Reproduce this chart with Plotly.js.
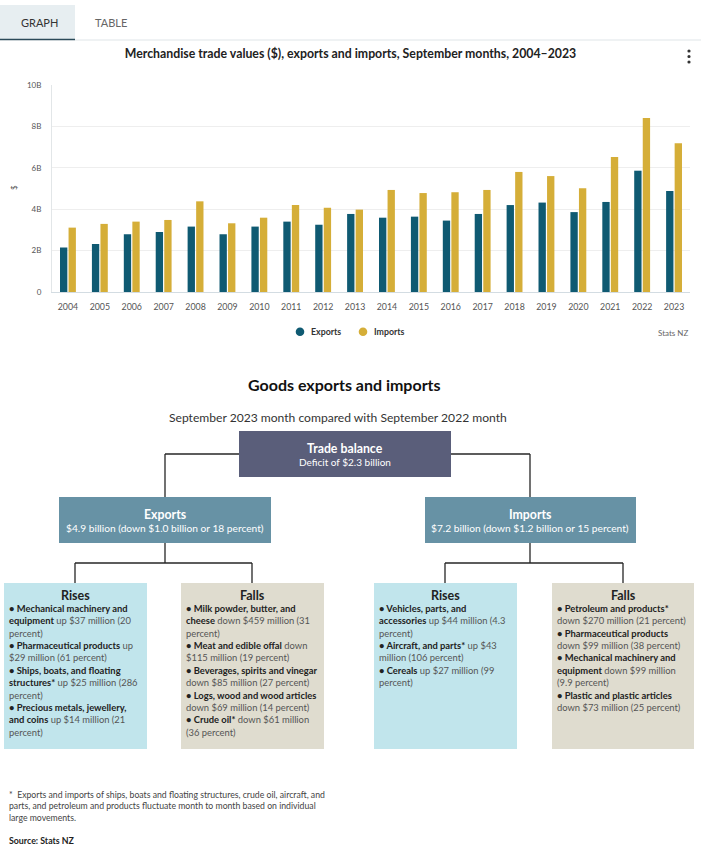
<!DOCTYPE html>
<html>
<head>
<meta charset="utf-8">
<script src="https://cdn.plot.ly/plotly-3.0.1.min.js"></script>
<style>
html,body{margin:0;padding:0;background:#fff;}
#chart{width:701px;height:853px;}
</style>
</head>
<body>
<div id="chart"></div>
<script>
// ---------- Data ----------
const years = ['2004','2005','2006','2007','2008','2009','2010','2011','2012','2013',
               '2014','2015','2016','2017','2018','2019','2020','2021','2022','2023'];
const exportsB = [2.15, 2.32, 2.79, 2.90, 3.16, 2.79, 3.16, 3.40, 3.25, 3.77,
                  3.59, 3.64, 3.45, 3.77, 4.20, 4.32, 3.86, 4.35, 5.86, 4.88];
const importsB = [3.11, 3.29, 3.40, 3.48, 4.38, 3.32, 3.59, 4.20, 4.07, 3.98,
                  4.93, 4.78, 4.82, 4.93, 5.80, 5.60, 5.01, 6.52, 8.41, 7.18];
const yTickVals = [0, 2, 4, 6, 8, 10];
const yTickText = ['0', '2B', '4B', '6B', '8B', '10B'];
const seriesNames = ['Exports', 'Imports'];
const chartTitle = 'Merchandise trade values ($), exports and imports, September months, 2004–2023';
const tabLabels = ['GRAPH', 'TABLE'];
const sourceLabel = 'Stats NZ';

const infoTitle = 'Goods exports and imports';
const infoSubtitle = 'September 2023 month compared with September 2022 month';
const balanceBox = ['Trade balance', 'Deficit of $2.3 billion'];
const exportsBox = ['Exports', '$4.9 billion (down $1.0 billion or 18 percent)'];
const importsBox = ['Imports', '$7.2 billion (down $1.2 billion or 15 percent)'];
const risesLabel = 'Rises';
const fallsLabel = 'Falls';
// lines: [bold part, regular part]
const exportRises = [
  ['• Mechanical machinery and', ''],
  ['equipment', ' up $37 million (20'],
  ['', 'percent)'],
  ['• Pharmaceutical products', ' up'],
  ['', '$29 million (61 percent)'],
  ['• Ships, boats, and floating', ''],
  ['structures*', ' up $25 million (286'],
  ['', 'percent)'],
  ['• Precious metals, jewellery,', ''],
  ['and coins', ' up $14 million (21'],
  ['', 'percent)']
];
const exportFalls = [
  ['• Milk powder, butter, and', ''],
  ['cheese', ' down $459 million (31'],
  ['', 'percent)'],
  ['• Meat and edible offal', ' down'],
  ['', '$115 million (19 percent)'],
  ['• Beverages, spirits and vinegar', ''],
  ['', 'down $85 million (27 percent)'],
  ['• Logs, wood and wood articles', ''],
  ['', 'down $69 million (14 percent)'],
  ['• Crude oil*', ' down $61 million'],
  ['', '(36 percent)']
];
const importRises = [
  ['• Vehicles, parts, and', ''],
  ['accessories', ' up $44 million (4.3'],
  ['', 'percent)'],
  ['• Aircraft, and parts*', ' up $43'],
  ['', 'million (106 percent)'],
  ['• Cereals', ' up $27 million (99'],
  ['', 'percent)']
];
const importFalls = [
  ['• Petroleum and products*', ''],
  ['', 'down $270 million (21 percent)'],
  ['• Pharmaceutical products', ''],
  ['', 'down $99 million (38 percent)'],
  ['• Mechanical machinery and', ''],
  ['equipment', ' down $99 million'],
  ['', '(9.9 percent)'],
  ['• Plastic and plastic articles', ''],
  ['', 'down $73 million (25 percent)']
];
const footnoteLines = [
  '*  Exports and imports of ships, boats and floating structures, crude oil, aircraft, and',
  'parts, and petroleum and products fluctuate month to month based on individual',
  'large movements.'
];
const footSource = 'Source: Stats NZ';

// ---------- Helpers ----------
const W = 701, H = 853;
const X = p => p / W;
const Y = p => 1 - p / H;
const EXP_C = '#0f5a72', IMP_C = '#d5ae38';
const CHART_FONT = 'Lato, "Open Sans", sans-serif';
const INFO_FONT = 'Lato, "Open Sans", sans-serif';

function rect(x0, y0, x1, y1, fill, line) {
  return {type:'rect', xref:'paper', yref:'paper', x0:X(x0), x1:X(x1), y0:Y(y1), y1:Y(y0),
          fillcolor:fill, line:line || {width:0}, layer:'above'};
}
function seg(x0, y0, x1, y1, color, w) {
  return {type:'line', xref:'paper', yref:'paper', x0:X(x0), x1:X(x1), y0:Y(y0), y1:Y(y1),
          line:{color:color, width:w}, layer:'above'};
}
function circ(cx, cy, r, fill) {
  return {type:'circle', xref:'paper', yref:'paper', x0:X(cx-r), x1:X(cx+r), y0:Y(cy+r), y1:Y(cy-r),
          fillcolor:fill, line:{width:0}, layer:'above'};
}
function txt(text, x, y, opts) {
  opts = opts || {};
  return Object.assign({text:text, xref:'paper', yref:'paper', x:X(x), y:Y(y), showarrow:false,
    xanchor:'center', yanchor:'middle', align:'center',
    font:{family:CHART_FONT, size:10, color:'#333'}}, opts);
}

// ---------- Traces ----------
const traces = [
  {type:'bar', name:seriesNames[0], x:years, y:exportsB, marker:{color:EXP_C}, hoverinfo:'x+y'},
  {type:'bar', name:seriesNames[1], x:years, y:importsB, marker:{color:IMP_C}, hoverinfo:'x+y'}
];

// ---------- Shapes ----------
const CON = '#262626', CW = 1.3;
const shapes = [
  // tabs
  rect(0, 5, 75, 40, '#e7eef1'),
  seg(75, 40, 701, 40, '#dfe5e8', 1),
  seg(0, 39.5, 75, 39.5, '#2b4a59', 1.5),
  // kebab
  circ(689, 51, 1.6, '#333'), circ(689, 56.5, 1.6, '#333'), circ(689, 62, 1.6, '#333'),
  // legend markers
  circ(300, 331.7, 4.3, EXP_C), circ(363, 331.7, 4.3, IMP_C),
  // connectors
  seg(165, 454, 239, 454, CON, CW),
  seg(165, 454, 165, 497, CON, CW),
  seg(451, 454, 530, 454, CON, CW),
  seg(530, 454, 530, 497, CON, CW),
  seg(165, 543, 165, 563, CON, CW),
  seg(75, 563, 252, 563, CON, CW),
  seg(75, 563, 75, 583, CON, CW),
  seg(252, 563, 252, 583, CON, CW),
  seg(530, 543, 530, 563, CON, CW),
  seg(445, 563, 623, 563, CON, CW),
  seg(445, 563, 445, 583, CON, CW),
  seg(623, 563, 623, 583, CON, CW),
  // boxes
  rect(239, 431, 451, 477, '#5a5e7a'),
  rect(59, 497, 271, 543, '#6792a5'),
  rect(425, 497, 636, 543, '#6792a5'),
  rect(4, 583, 147, 749, '#c1e5ec'),
  rect(181, 583, 324, 749, '#dfdccf'),
  rect(374, 583, 517, 749, '#c1e5ec'),
  rect(552, 583, 694, 749, '#dfdccf')
];

// ---------- Annotations ----------
const LINE = 12.4, FIRST = 608.3, BODY_SIZE = 9.4;
function bodyAnns(lines, x) {
  return lines.map(([b, r], i) => txt(
    (b ? '<b><span style="color:#222">' + b + '</span></b>' : '') + r,
    x, FIRST + i * LINE,
    {xanchor:'left', align:'left', font:{family:INFO_FONT, size:BODY_SIZE, color:'#555'}}));
}
const annotations = [
  txt(tabLabels[0], 39, 22, {font:{family:CHART_FONT, size:11, color:'#333'}}),
  txt(tabLabels[1], 111, 22, {font:{family:CHART_FONT, size:11, color:'#666'}}),
  txt('<b>' + seriesNames[0] + '</b>', 309, 332, {xanchor:'left', font:{family:CHART_FONT, size:8.8, color:'#333'}}),
  txt('<b>' + seriesNames[1] + '</b>', 372, 332, {xanchor:'left', font:{family:CHART_FONT, size:8.8, color:'#333'}}),
  txt(sourceLabel, 690, 333, {xanchor:'right', font:{family:CHART_FONT, size:8, color:'#666'}}),
  txt('$', 14, 188, {textangle:-90, font:{family:CHART_FONT, size:8, color:'#555'}}),
  // infographic
  txt('<b>' + infoTitle + '</b>', 344, 384, {font:{family:INFO_FONT, size:16, color:'#111'}}),
  txt(infoSubtitle, 338, 417, {font:{family:INFO_FONT, size:12.1, color:'#333'}}),
  txt('<b>' + balanceBox[0] + '</b>', 345, 448, {font:{family:INFO_FONT, size:12.3, color:'#fff'}}),
  txt(balanceBox[1], 345, 461.5, {font:{family:INFO_FONT, size:10, color:'#fff'}}),
  txt('<b>' + exportsBox[0] + '</b>', 165, 514, {font:{family:INFO_FONT, size:12.3, color:'#fff'}}),
  txt(exportsBox[1], 165, 528, {font:{family:INFO_FONT, size:10.2, color:'#fff'}}),
  txt('<b>' + importsBox[0] + '</b>', 530, 514, {font:{family:INFO_FONT, size:12.3, color:'#fff'}}),
  txt(importsBox[1], 530, 528, {font:{family:INFO_FONT, size:10.2, color:'#fff'}}),
  txt('<b>' + risesLabel + '</b>', 75.5, 595, {font:{family:INFO_FONT, size:12.5, color:'#222'}}),
  txt('<b>' + fallsLabel + '</b>', 252.5, 595, {font:{family:INFO_FONT, size:12.5, color:'#222'}}),
  txt('<b>' + risesLabel + '</b>', 445.5, 595, {font:{family:INFO_FONT, size:12.5, color:'#222'}}),
  txt('<b>' + fallsLabel + '</b>', 623, 595, {font:{family:INFO_FONT, size:12.5, color:'#222'}})
].concat(
  bodyAnns(exportRises, 7),
  bodyAnns(exportFalls, 184),
  bodyAnns(importRises, 377),
  bodyAnns(importFalls, 555),
  footnoteLines.map((l, i) => txt(l, 7, 794 + i * 11.6, {xanchor:'left', align:'left',
    font:{family:INFO_FONT, size:8.7, color:'#444'}})),
  [txt('<b>' + footSource + '</b>', 7, 840, {xanchor:'left', font:{family:INFO_FONT, size:8.8, color:'#222'}})]
);

const layout = {
  width: W, height: H,
  margin: {l:0, r:0, t:0, b:0},
  paper_bgcolor: '#fff', plot_bgcolor: '#fff',
  font: {family: CHART_FONT},
  showlegend: false,
  barmode: 'group',
  bargap: 0.465,
  bargroupgap: 0.14,
  title: {text: '<b>' + chartTitle + '</b>', x: 0.5, xanchor: 'center', xref: 'paper',
          y: Y(54), yref: 'container', yanchor: 'middle',
          font: {family: CHART_FONT, size: 12.3, color: '#222'}},
  xaxis: {type:'category', domain:[X(52), X(690)], anchor:'y',
          showgrid:false, showline:true, linecolor:'#d3dce2', linewidth:1,
          ticks:'outside', ticklen:6, tickcolor:'rgba(0,0,0,0)',
          tickfont:{family:CHART_FONT, size:8.8, color:'#555'}, fixedrange:true},
  yaxis: {domain:[Y(292), Y(85)], anchor:'x', range:[0, 10],
          tickvals: yTickVals, ticktext: yTickText,
          showgrid:true, gridcolor:'#eeeeee', gridwidth:1, zeroline:false,
          showline:true, linecolor:'#e2e6e8', linewidth:1,
          ticks:'outside', ticklen:8, tickcolor:'rgba(0,0,0,0)',
          tickfont:{family:CHART_FONT, size:8, color:'#555'}, fixedrange:true},
  shapes: shapes,
  annotations: annotations
};

Plotly.newPlot('chart', traces, layout, {displayModeBar:false, staticPlot:true});
</script>
</body>
</html>
